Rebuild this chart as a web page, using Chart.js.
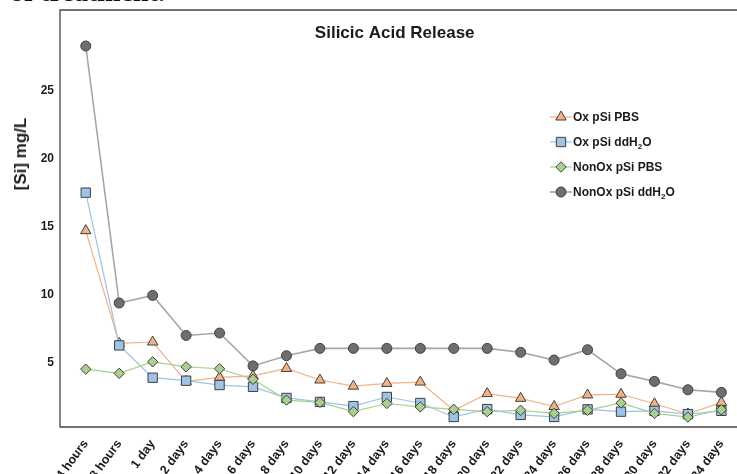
<!DOCTYPE html>
<html>
<head>
<meta charset="utf-8">
<title>Silicic Acid Release</title>
<script src="https://cdn.jsdelivr.net/npm/chart.js@4/dist/chart.umd.min.js"></script>
<style>
    body { margin: 0; overflow: hidden; background: #fff; }
    #wrap { position: relative; width: 737px; height: 490px; }
    #doc-line {
        position: absolute; left: 10px; top: -24px;
        font: bold 28px 'Liberation Serif', 'DejaVu Serif', serif;
        color: #111; white-space: nowrap;
    }
    #y-title {
        position: absolute; left: 21px; top: 154px;
        transform: translate(-50%, -50%) rotate(-90deg);
        font: bold 17px 'Liberation Sans', Arial, sans-serif;
        color: #1a1a1a; white-space: nowrap;
    }
    #legend { position: absolute; left: 550px; top: 104px; }
    .item {
        display: flex; align-items: center; height: 25px;
        font: bold 12px 'Liberation Sans', Arial, sans-serif; color: #1a1a1a;
    }
    .item canvas { margin-right: 1px; }
    .item sub { font-size: 8px; line-height: 0; }
</style>
</head>
<body>
<div id="wrap">
    <canvas id="siChart" width="737" height="490"></canvas>
    <div id="doc-line">of treatment.</div>
    <div id="y-title">[Si] mg/L</div>
    <div id="legend"></div>
</div>
<script>
// Sampling times (x axis)
const categories = [
    '4 hours', '8 hours', '1 day', '2 days', '4 days', '6 days', '8 days',
    '10 days', '12 days', '14 days', '16 days', '18 days', '20 days', '22 days',
    '24 days', '26 days', '28 days', '30 days', '32 days', '34 days'
];

// [Si] mg/L per series
const oxPbs = [14.7, 6.4, 6.5, 3.6, 3.9, 4.0, 4.55, 3.7, 3.25, 3.45, 3.55, 1.45, 2.7, 2.35, 1.75, 2.6, 2.65, 1.95, 1.2, 2.05];
const oxH2O = [17.5, 6.25, 3.87, 3.65, 3.33, 3.2, 2.38, 2.09, 1.78, 2.45, 2.01, 0.98, 1.56, 1.13, 0.98, 1.54, 1.37, 1.43, 1.19, 1.43];
const nonOxPbs = [4.5, 4.19, 5.04, 4.67, 4.53, 3.75, 2.22, 2.05, 1.37, 1.97, 1.72, 1.54, 1.37, 1.47, 1.24, 1.47, 2.01, 1.24, 0.97, 1.51];
const nonOxH2O = [28.3, 9.37, 9.93, 6.98, 7.16, 4.74, 5.49, 6.03, 6.03, 6.03, 6.03, 6.03, 6.03, 5.74, 5.17, 5.93, 4.16, 3.6, 2.98, 2.79];

const yTicks = [5, 10, 15, 20, 25];

const FONT = "'Liberation Sans', Arial, sans-serif";
const TEXT = '#1a1a1a';
const FRAME_TOP = 10;

const series = [
    { label: 'Ox pSi PBS', values: oxPbs, style: 'triangle', radius: 6, fill: '#F4B183', line: '#F4B183', width: 1.2, order: 3 },
    { label: 'Ox pSi ddH2O', values: oxH2O, style: 'rect', radius: 6.6, fill: '#9DC3E6', line: '#9DC3E6', width: 1.2, order: 2 },
    { label: 'NonOx pSi PBS', values: nonOxPbs, style: 'rectRot', radius: 5.2, fill: '#A9D18E', line: '#A9D18E', width: 1.2, order: 1 },
    { label: 'NonOx pSi ddH2O', values: nonOxH2O, style: 'circle', radius: 5, fill: '#6E6E6E', line: '#A6A6A6', width: 1.6, order: 0 }
];

// left and top of the boxed plot, plus the baseline
const framePlugin = {
    id: 'frame',
    beforeDatasetsDraw(chart) {
        const { ctx, chartArea } = chart;
        ctx.save();
        ctx.strokeStyle = '#454545';
        ctx.lineWidth = 1.3;
        ctx.beginPath();
        ctx.moveTo(chart.width, FRAME_TOP);
        ctx.lineTo(chartArea.left, FRAME_TOP);
        ctx.lineTo(chartArea.left, chartArea.bottom);
        ctx.lineTo(chart.width, chartArea.bottom);
        ctx.stroke();
        ctx.restore();
    }
};

const chart = new Chart(document.getElementById('siChart'), {
    type: 'line',
    data: {
        datasets: series.map(s => ({
            label: s.label,
            data: s.values.map((v, i) => ({ x: i, y: v })),
            borderColor: s.line,
            borderWidth: s.width,
            backgroundColor: s.fill,
            pointStyle: s.style,
            pointRadius: s.radius,
            pointBackgroundColor: s.fill,
            pointBorderColor: '#404040',
            pointBorderWidth: 1,
            tension: 0,
            clip: false,
            order: s.order
        }))
    },
    options: {
        responsive: false,
        animation: false,
        events: [],
        layout: { padding: 0 },
        plugins: {
            legend: { display: false },
            tooltip: { enabled: false },
            title: {
                display: true,
                text: 'Silicic Acid Release',
                fullSize: false,
                color: TEXT,
                font: { family: FONT, size: 17, weight: 'bold' },
                padding: { top: 23, bottom: 6 }
            }
        },
        scales: {
            x: {
                type: 'linear',
                min: -0.77,
                max: 19.24,
                grid: { display: false, drawTicks: false },
                border: { display: false },
                afterBuildTicks(scale) {
                    scale.ticks = categories.map((c, i) => ({ value: i }));
                },
                afterFit(scale) {
                    scale.height = 63;
                    scale.paddingLeft = 0;
                    scale.paddingRight = 0;
                },
                ticks: {
                    autoSkip: false,
                    maxRotation: 54,
                    minRotation: 54,
                    padding: 10,
                    color: TEXT,
                    font: { family: FONT, size: 12.5, weight: 'bold' },
                    callback: value => categories[value]
                }
            },
            y: {
                min: 0.24,
                max: 28.05,
                grid: { display: false, drawTicks: false },
                border: { display: false },
                afterBuildTicks(scale) {
                    scale.ticks = yTicks.map(v => ({ value: v }));
                },
                afterFit(scale) {
                    scale.width = 60;
                },
                ticks: {
                    padding: 6,
                    color: TEXT,
                    font: { family: FONT, size: 12, weight: 'bold' }
                }
            }
        }
    },
    plugins: [framePlugin]
});

// legend: short line with the marker on it, then the label
function buildLegend(chart) {
    const box = document.getElementById('legend');
    chart.data.datasets.forEach(ds => {
        const row = document.createElement('div');
        row.className = 'item';

        const mark = document.createElement('canvas');
        mark.width = 22;
        mark.height = 16;
        const ctx = mark.getContext('2d');
        ctx.strokeStyle = ds.borderColor;
        ctx.lineWidth = ds.borderWidth;
        ctx.beginPath();
        ctx.moveTo(0, 8);
        ctx.lineTo(22, 8);
        ctx.stroke();
        ctx.fillStyle = ds.pointBackgroundColor;
        ctx.strokeStyle = ds.pointBorderColor;
        ctx.lineWidth = ds.pointBorderWidth;
        Chart.helpers.drawPoint(ctx, {
            pointStyle: ds.pointStyle,
            radius: ds.pointRadius,
            rotation: 0,
            borderWidth: ds.pointBorderWidth
        }, 11, 8);

        const text = document.createElement('span');
        text.innerHTML = ds.label.replace('H2O', 'H<sub>2</sub>O');

        row.appendChild(mark);
        row.appendChild(text);
        box.appendChild(row);
    });
}

buildLegend(chart);
</script>
</body>
</html>
